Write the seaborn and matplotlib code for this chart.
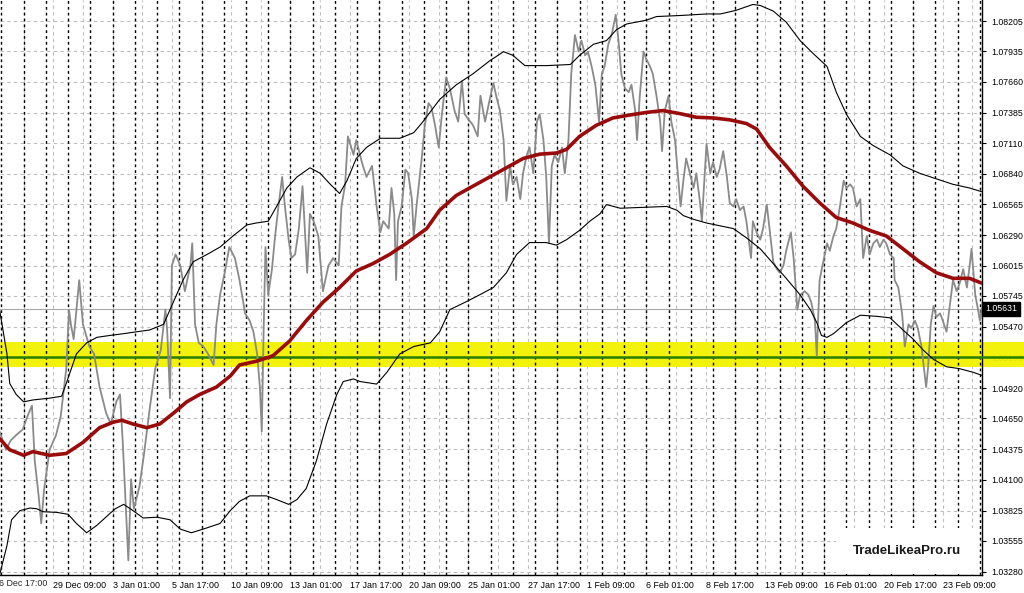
import numpy as np
import pandas as pd
import matplotlib
matplotlib.use('Agg')
import matplotlib.pyplot as plt
import matplotlib.transforms as mtransforms
import seaborn as sns

# hourly bars, x = bar number counted from 26 Dec 17:00
price_bars = [6, 13, 18, 24, 31, 36, 41, 44, 48, 51, 54, 60, 67, 72, 78, 81, 83, 86, 92, 96,
              103, 108, 114, 121, 126, 132, 136, 139, 142, 145, 148, 151, 157, 162, 168, 174,
              180, 185, 187, 190, 192, 196, 201, 206, 212, 214, 217, 221, 226, 231, 237, 240,
              244, 249, 254, 260, 265, 271, 276,
              280, 284, 287, 289, 291, 293, 296, 300, 303, 307, 311, 314, 318, 321, 325, 329,
              333, 338, 341, 345, 350, 355, 361, 366, 372, 375, 379, 382, 388, 391, 397, 402,
              408, 413, 417, 420, 426, 429, 432, 434, 436, 440, 444, 447, 451, 453, 456, 462,
              465, 469, 472, 476, 480, 483, 488, 492, 497, 501, 505, 508, 514, 517, 522, 525, 530,
              535, 539, 542, 546, 550, 553, 557, 560, 564, 568, 571, 575, 578, 582, 586, 589,
              593, 596, 599, 602, 605, 609, 613, 616, 620, 623, 627, 631, 634, 638, 641, 645,
              649, 653, 656, 659, 663, 667, 671, 674, 677, 681, 685, 688, 692, 694, 697, 701,
              704, 708, 711, 715, 719, 721, 724, 728, 731, 735, 738, 741, 744, 747, 751, 755,
              758, 762, 764, 769, 773, 776, 780, 783, 787, 791,
              794, 798, 801, 805, 809, 812, 817, 819, 823, 827, 830, 834, 837, 841, 845, 848,
              852, 855, 860, 863, 867, 870, 875, 879, 882, 886, 888, 891, 895, 899, 902, 906,
              909, 913, 917, 920, 924, 927, 931, 935, 938, 942, 945, 949, 953, 956, 960, 963,
              967, 971, 972, 976, 980, 983, 987, 990, 994, 997, 1001, 1006, 1008, 1011, 1014,
              1017, 1021, 1024, 1028, 1032, 1035, 1039, 1042, 1046, 1050, 1053, 1055, 1059,
              1062, 1064, 1066]
price = [1.04534, 1.04369, 1.04452, 1.04501, 1.04551, 1.04666, 1.04765, 1.04270, 1.03974, 1.03710,
         1.04007, 1.04369, 1.04501, 1.04666, 1.05095, 1.05620, 1.05491, 1.05359, 1.05887, 1.05491,
         1.05293, 1.05227, 1.04930, 1.04699, 1.04600, 1.04798, 1.04864, 1.04435, 1.03908, 1.03380,
         1.04106, 1.03842, 1.04040, 1.04336, 1.04732, 1.05095, 1.05260, 1.05623, 1.05425, 1.04831,
         1.06018, 1.06117, 1.06018, 1.05788, 1.06018, 1.06216, 1.05491, 1.05326, 1.05293, 1.05227,
         1.05128, 1.05491, 1.05755, 1.05953, 1.06183, 1.06084, 1.05887, 1.05590, 1.05524,
         1.05425, 1.05227, 1.04930, 1.04534, 1.05425, 1.06183, 1.05755, 1.05985, 1.06249, 1.06546,
         1.06810, 1.06546, 1.06249, 1.06084, 1.06117, 1.06348, 1.06728, 1.05953, 1.06480, 1.06414,
         1.06282, 1.05788, 1.06018, 1.06084, 1.06018, 1.06546, 1.06744, 1.07173, 1.07008, 1.07140,
         1.06942, 1.06810, 1.06909, 1.06546, 1.06315, 1.06414, 1.06348, 1.06711, 1.06480, 1.05887,
         1.06414, 1.06546, 1.06876, 1.06843, 1.06612, 1.06282, 1.06546, 1.07008, 1.07272, 1.07470,
         1.07437, 1.07272, 1.07074, 1.07338, 1.07700, 1.07602, 1.07404, 1.07305, 1.07667, 1.07371,
         1.07305, 1.07272, 1.07173, 1.07536, 1.07305,
         1.07503, 1.07651, 1.07536, 1.07404, 1.07140, 1.06596, 1.06909, 1.06744, 1.06810, 1.06612,
         1.06843, 1.07008, 1.07074, 1.06843, 1.07305, 1.07371, 1.07140, 1.06810, 1.06216, 1.06909,
         1.07008, 1.06942, 1.07074, 1.06843, 1.07140, 1.07733, 1.08080, 1.07931, 1.08030, 1.07898,
         1.07931, 1.07799, 1.07635, 1.07305, 1.07733, 1.07799, 1.07997, 1.08096, 1.08261, 1.08030,
         1.07733, 1.07602, 1.07569, 1.07635, 1.07404, 1.07140, 1.07536, 1.07931, 1.07865, 1.07799,
         1.07733, 1.07536, 1.07305, 1.07041, 1.07404, 1.07536, 1.07305, 1.07140, 1.06843, 1.06546,
         1.06777, 1.06975, 1.06843, 1.06711, 1.06843, 1.06579, 1.06414, 1.07107, 1.06843, 1.06942,
         1.06810, 1.06876, 1.07041, 1.06810,
         1.06579, 1.06546, 1.06612, 1.06513, 1.06546, 1.06414, 1.06084, 1.06414, 1.06315, 1.06249,
         1.06348, 1.06563, 1.06348, 1.06051, 1.05985, 1.05953, 1.06018, 1.06150, 1.06315, 1.06084,
         1.05623, 1.05755, 1.05788, 1.05755, 1.05689, 1.05524, 1.05211, 1.05887, 1.06051, 1.06216,
         1.06150, 1.06282, 1.06348, 1.06546, 1.06777, 1.06711, 1.06744, 1.06711, 1.06546, 1.06612,
         1.06084, 1.06282, 1.06117, 1.06216, 1.06249, 1.06183, 1.06249, 1.06216, 1.06117, 1.06084,
         1.05887, 1.05821, 1.05590, 1.05293, 1.05491, 1.05458, 1.05524, 1.05458, 1.05293, 1.04930,
         1.05095, 1.05491, 1.05656, 1.05557, 1.05590, 1.05524, 1.05425, 1.05689, 1.05887, 1.05788,
         1.05854, 1.05985, 1.05821, 1.06018, 1.06167, 1.05755, 1.05623, 1.05524, 1.05631]

ma_bars = [6, 17, 32, 42, 60, 78, 96, 114, 129, 138, 150, 165, 179, 194, 208, 222, 240, 255, 265,
           283, 301, 319, 337, 355, 373, 391, 409, 427, 445, 467, 481, 499, 517,
           535, 553, 571, 589, 607, 618, 632, 650, 668, 686, 704, 722, 740, 758, 776,
           794, 812, 823, 837, 855, 873, 891, 909, 927, 945, 963, 981, 999, 1017, 1035, 1053, 1066]
ma = [1.04469, 1.04369, 1.04320, 1.04353, 1.04320, 1.04336, 1.04435, 1.04567, 1.04617, 1.04633,
      1.04600, 1.04567, 1.04600, 1.04699, 1.04798, 1.04864, 1.04930, 1.05029, 1.05128,
      1.05161, 1.05210, 1.05342, 1.05524, 1.05689, 1.05821, 1.05969, 1.06035, 1.06117, 1.06216,
      1.06348, 1.06513, 1.06645, 1.06728,
      1.06810, 1.06892, 1.06975, 1.07014, 1.07024, 1.07057, 1.07173, 1.07272, 1.07338, 1.07364,
      1.07387, 1.07404, 1.07377, 1.07344, 1.07338,
      1.07321, 1.07288, 1.07239, 1.07074, 1.06909, 1.06728, 1.06579, 1.06447, 1.06398, 1.06332,
      1.06282, 1.06167, 1.06051, 1.05953, 1.05903, 1.05903, 1.05860]

upper_bars = [6, 10, 14, 17, 24, 32, 42, 60, 73, 78, 89, 100, 111, 125, 140, 154, 168, 183, 190,
              197, 204, 215, 230, 244, 258, 273,
              283, 296, 305, 316, 327, 341, 352, 363, 373, 381, 391, 402, 417, 438, 453, 463, 481,
              499, 517, 535, 550, 560, 573, 596, 622, 632, 647, 661, 672, 683, 704, 715, 740, 769,
              784, 801, 819, 827, 841, 855, 870, 884, 899, 909, 920, 935, 949, 967, 981, 999, 1017,
              1035, 1053, 1066]
upper = [1.05623, 1.05425, 1.05227, 1.04963, 1.04864, 1.04798, 1.04815, 1.04831, 1.04848, 1.04963,
         1.05227, 1.05326, 1.05375, 1.05392, 1.05408, 1.05425, 1.05441, 1.05491, 1.05623, 1.05755,
         1.05887, 1.06051, 1.06117, 1.06183, 1.06282, 1.06381,
         1.06398, 1.06414, 1.06546, 1.06711, 1.06810, 1.06892, 1.06843, 1.06744, 1.06662, 1.06777,
         1.06975, 1.07074, 1.07156, 1.07156, 1.07206, 1.07305, 1.07503, 1.07635, 1.07733, 1.07849,
         1.07931, 1.07898, 1.07806, 1.07806, 1.07816, 1.07898, 1.07997, 1.08030, 1.08129, 1.08179,
         1.08212, 1.08245, 1.08254, 1.08268,
         1.08268, 1.08301, 1.08353, 1.08344, 1.08294, 1.08195, 1.08030, 1.07915, 1.07799, 1.07569,
         1.07371, 1.07173, 1.07090, 1.07008, 1.06909, 1.06843, 1.06793, 1.06744, 1.06711, 1.06678]

lower_bars = [6, 14, 19, 28, 39, 46, 53, 68, 80, 89, 100, 111, 122, 131, 140, 150, 161, 176, 190,
              201, 213, 226, 244, 255, 265,
              276, 294, 305, 318, 327, 337, 348, 359, 370, 377, 388, 395, 413, 424, 438, 453, 471,
              481, 492, 510, 524,
              539, 553, 564, 578, 596, 607, 618, 632, 643, 654, 661, 676, 694, 726, 737, 744, 755, 769,
              798, 812, 827, 841, 855, 870, 881, 888, 893, 899, 906, 920, 935, 953, 967, 981, 992,
              1003, 1014, 1028, 1042, 1057, 1066]
lower = [1.03248, 1.03512, 1.03743, 1.03825, 1.03848, 1.03842, 1.03815, 1.03809, 1.03792, 1.03710,
         1.03627, 1.03693, 1.03776, 1.03842, 1.03881, 1.03825, 1.03759, 1.03766, 1.03743, 1.03660,
         1.03627, 1.03660, 1.03710, 1.03825, 1.03908,
         1.03957, 1.03957, 1.03924, 1.03881, 1.03924, 1.04023, 1.04271, 1.04600, 1.04864, 1.04980,
         1.05003, 1.04980, 1.04957, 1.05062, 1.05227, 1.05293, 1.05326, 1.05425, 1.05623, 1.05695,
         1.05755,
         1.05821, 1.05953, 1.06117, 1.06223, 1.06223, 1.06200, 1.06249, 1.06332, 1.06414, 1.06480,
         1.06563, 1.06530, 1.06536, 1.06546, 1.06513, 1.06464, 1.06431, 1.06398,
         1.06348, 1.06266, 1.06167, 1.06035, 1.05903, 1.05755, 1.05623, 1.05507, 1.05392, 1.05375,
         1.05408, 1.05507, 1.05573, 1.05563, 1.05550, 1.05441, 1.05359, 1.05260, 1.05177, 1.05112,
         1.05095, 1.05062, 1.05036]

level = 1.05200
level_zone = (1.05110, 1.05333)
last_price = 1.05631

price_ticks = [1.08205, 1.07935, 1.07660, 1.07385, 1.07110, 1.06840, 1.06565, 1.06290, 1.06015,
               1.05745, 1.05470, 1.05195, 1.04920, 1.04650, 1.04375, 1.04100, 1.03825, 1.03555,
               1.03280]
date_labels = ['26 Dec 17:00', '29 Dec 09:00', '3 Jan 01:00', '5 Jan 17:00', '10 Jan 09:00',
               '13 Jan 01:00', '17 Jan 17:00', '20 Jan 09:00', '25 Jan 01:00', '27 Jan 17:00',
               '1 Feb 09:00', '6 Feb 01:00', '8 Feb 17:00', '13 Feb 09:00', '16 Feb 01:00',
               '20 Feb 17:00', '23 Feb 09:00']
date_bars = [64 * i for i in range(len(date_labels))]
day_sep_bars = [8 + 24 * i for i in range(45)]
grid_bars = [32 * i for i in range(1, 34)]

sns.set_style('white')
plt.rcParams['font.family'] = ['Liberation Sans', 'DejaVu Sans']

fig = plt.figure(figsize=(10.24, 5.93), dpi=100)
ax = fig.add_axes([0, 18 / 593, 982 / 1024, 575 / 593])
ax.set_xlim(6.5, 1066.3)
ax.set_ylim(1.03249, 1.08393)

# grid
ax.set_yticks(price_ticks)
ax.yaxis.grid(True, color='#bdbdbd', linestyle=(0, (3, 3)), linewidth=0.8, zorder=1)
ax.vlines(grid_bars, 1.03249, 1.08393, color='#bdbdbd', linestyle=(0, (3, 3)), linewidth=0.8, zorder=1)
ax.vlines(day_sep_bars, 1.03249, 1.08393, color='black', linestyle=(0, (2, 2.2)), linewidth=1.0, zorder=2)

# support zone
ax.axhspan(level_zone[0], level_zone[1], xmin=0, xmax=1024 / 982, color='#f2f200',
           alpha=0.95, clip_on=False, zorder=1.5, lw=0)
ax.axhline(level, xmin=0, xmax=1024 / 982, color='#2a7d00', lw=1.8, clip_on=False, zorder=3)

ax.axhline(last_price, color='#a8a8a8', lw=0.8, zorder=2)

sns.lineplot(x=price_bars, y=price, ax=ax, color='#8a8a8a', lw=1.3, estimator=None, sort=False, zorder=4)
sns.lineplot(x=upper_bars, y=upper, ax=ax, color='black', lw=0.8, estimator=None, sort=False, zorder=5)
sns.lineplot(x=lower_bars, y=lower, ax=ax, color='black', lw=0.8, estimator=None, sort=False, zorder=5)
sns.lineplot(x=ma_bars, y=ma, ax=ax, color='#9a0c0c', lw=2.6, estimator=None, sort=False, zorder=6)

# axes look
for s in ['top', 'left']:
    ax.spines[s].set_visible(False)
for s in ['right', 'bottom']:
    ax.spines[s].set_color('black')
    ax.spines[s].set_linewidth(1.0)
ax.yaxis.tick_right()
ax.set_yticklabels(['%.5f' % v for v in price_ticks])
ax.tick_params(axis='y', direction='out', length=3, width=0.8, pad=4, labelsize=6.3, colors='black')
ax.set_xticks(date_bars[1:])
ax.set_xticklabels(date_labels[1:], ha='left')
ax.tick_params(axis='x', direction='out', length=3, width=0.8, pad=1.5, labelsize=6.4, colors='black')
ax.set_xlabel('')
ax.set_ylabel('')

# first date label sits partly off the left edge, as in the source
trans = mtransforms.blended_transform_factory(ax.transData, ax.transAxes)
ax.text(date_bars[0], -0.0076, date_labels[0], transform=trans, ha='left', va='top',
        fontsize=6.4, clip_on=False)

trans_y = mtransforms.blended_transform_factory(ax.transAxes, ax.transData)
ax.text(1.003, last_price, '%.5f' % last_price, transform=trans_y, ha='left', va='center',
        fontsize=6.3, color='white', clip_on=False, zorder=10,
        bbox=dict(facecolor='black', edgecolor='black', boxstyle='square,pad=0.3'))

fig.text(853 / 1024, 1 - 551 / 593, 'TradeLikeaPro.ru', fontsize=9.5, fontweight='bold',
         color='#1a1a1a', ha='left', va='center', zorder=10,
         bbox=dict(facecolor='white', edgecolor='none', boxstyle='square,pad=1.3'))

fig.savefig('out.png', dpi=100)
